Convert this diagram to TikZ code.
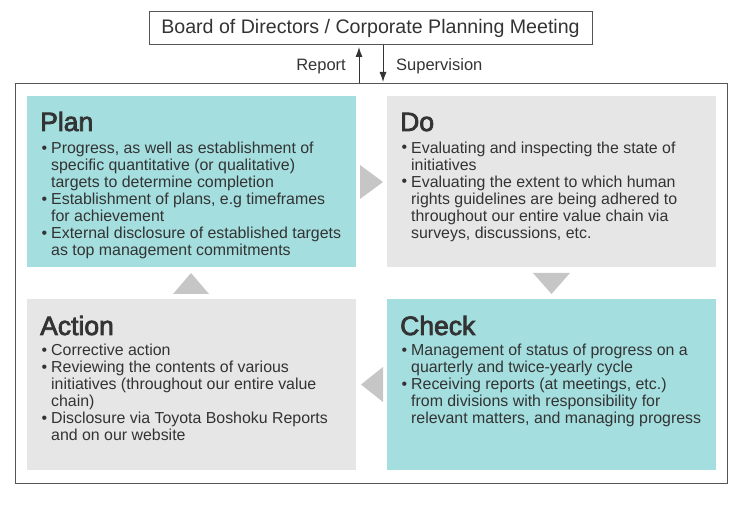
\documentclass[tikz,border=0pt]{standalone}
\usepackage{fontspec}
\setmainfont{Liberation Sans}
\usetikzlibrary{arrows.meta}
\definecolor{teal}{HTML}{A4DEDF}
\definecolor{lgray}{HTML}{E6E6E6}
\definecolor{trig}{HTML}{C6C6C6}
\definecolor{txt}{HTML}{333333}
\definecolor{edge}{HTML}{555555}
\newcommand{\medw}[1]{\special{pdf:code 2 Tr 0.75 w 0.2 0.2 0.2 RG}#1\special{pdf:code 0 Tr}}
\tikzset{
  phase/.style={draw=none, inner sep=0pt, minimum width=329pt, minimum height=171pt},
  heading/.style={anchor=base west, inner sep=0pt, text=txt, font=\fontsize{26.5}{28}\selectfont},
  body/.style={anchor=base west, inner sep=0pt, text=txt, font=\fontsize{15.9}{17}\selectfont},
  tri/.style={fill=trig, draw=none},
  flow/.style={draw=txt, line width=1pt, -{Latex[length=10pt,width=7pt]}},
  lbl/.style={inner sep=0pt, text=txt, font=\fontsize{16.5}{18}\selectfont}
}
\newcommand{\bl}{\makebox[10pt][l]{\hspace{0.5pt}\raisebox{0.5pt}{\textbullet}}}
\newcommand{\cl}{\hspace*{10pt}}
\begin{document}
\begin{tikzpicture}[x=1pt,y=-1pt]
\useasboundingbox (0,0) rectangle (756,505);
% board
\node[draw=edge, line width=1pt, minimum width=443pt, minimum height=33pt, inner sep=0pt,
      text=txt, font=\fontsize{19.6}{21}\selectfont] (board) at (370.5,28.5) {Board of Directors / Corporate Planning Meeting};
% outer frame
\node[draw=edge, line width=1pt, minimum width=712pt, minimum height=400pt, inner sep=0pt] (outer) at (371,283.5) {};
% phase boxes
\node[phase, fill=teal] (plan) at (191,181.5) {};
\node[phase, fill=lgray] (do) at (551.5,181.5) {};
\node[phase, fill=lgray] (act) at (191,384.5) {};
\node[phase, fill=teal] (chk) at (551.5,384.5) {};
% arrows
\coordinate (upS) at (359,83.5);
\coordinate (upE) at (359,47);
\coordinate (dnS) at (383,45.5);
\coordinate (dnE) at (383,82);
\draw[flow] (outer.north -| upS) -- (upE);
\draw[flow] (board.south -| dnS) -- (dnE);
\node[lbl, anchor=base east] (rep) at (346,71) {Report};
\node[lbl, anchor=base west] (sup) at (396,71) {Supervision};
% triangles
\fill[tri] (360,165) -- (360,199) -- (383,182) -- cycle;
\fill[tri] (533,273) -- (570,273) -- (551.5,294) -- cycle;
\fill[tri] (173,294) -- (209,294) -- (191,273) -- cycle;
\fill[tri] (383,367) -- (383,402) -- (361,384.5) -- cycle;
% texts
\node[heading] (planh) at (40,131) {\medw{Plan}};
\node[body] (plant) at (41,154) {\begin{tabular}[t]{@{}l@{}}
\bl Progress, as well as establishment of\\
\cl specific quantitative (or qualitative)\\
\cl targets to determine completion\\
\bl Establishment of plans, e.g timeframes\\
\cl for achievement\\
\bl External disclosure of established targets\\
\cl as top management commitments
\end{tabular}};
\node[heading] (doh) at (400,131) {\medw{Do}};
\node[body] (dot) at (401,153.5) {\begin{tabular}[t]{@{}l@{}}
\bl Evaluating and inspecting the state of\\
\cl initiatives\\
\bl Evaluating the extent to which human\\
\cl rights guidelines are being adhered to\\
\cl throughout our entire value chain via\\
\cl surveys, discussions, etc.
\end{tabular}};
\node[heading] (acth) at (40,335) {\medw{Action}};
\node[body] (actt) at (41,356) {\begin{tabular}[t]{@{}l@{}}
\bl Corrective action\\
\bl Reviewing the contents of various\\
\cl initiatives (throughout our entire value\\
\cl chain)\\
\bl Disclosure via Toyota Boshoku Reports\\
\cl and on our website
\end{tabular}};
\node[heading] (chkh) at (400,335) {\medw{Check}};
\node[body] (chkt) at (401,356) {\begin{tabular}[t]{@{}l@{}}
\bl Management of status of progress on a\\
\cl quarterly and twice-yearly cycle\\
\bl Receiving reports (at meetings, etc.)\\
\cl from divisions with responsibility for\\
\cl relevant matters, and managing progress
\end{tabular}};
\end{tikzpicture}
\end{document}
